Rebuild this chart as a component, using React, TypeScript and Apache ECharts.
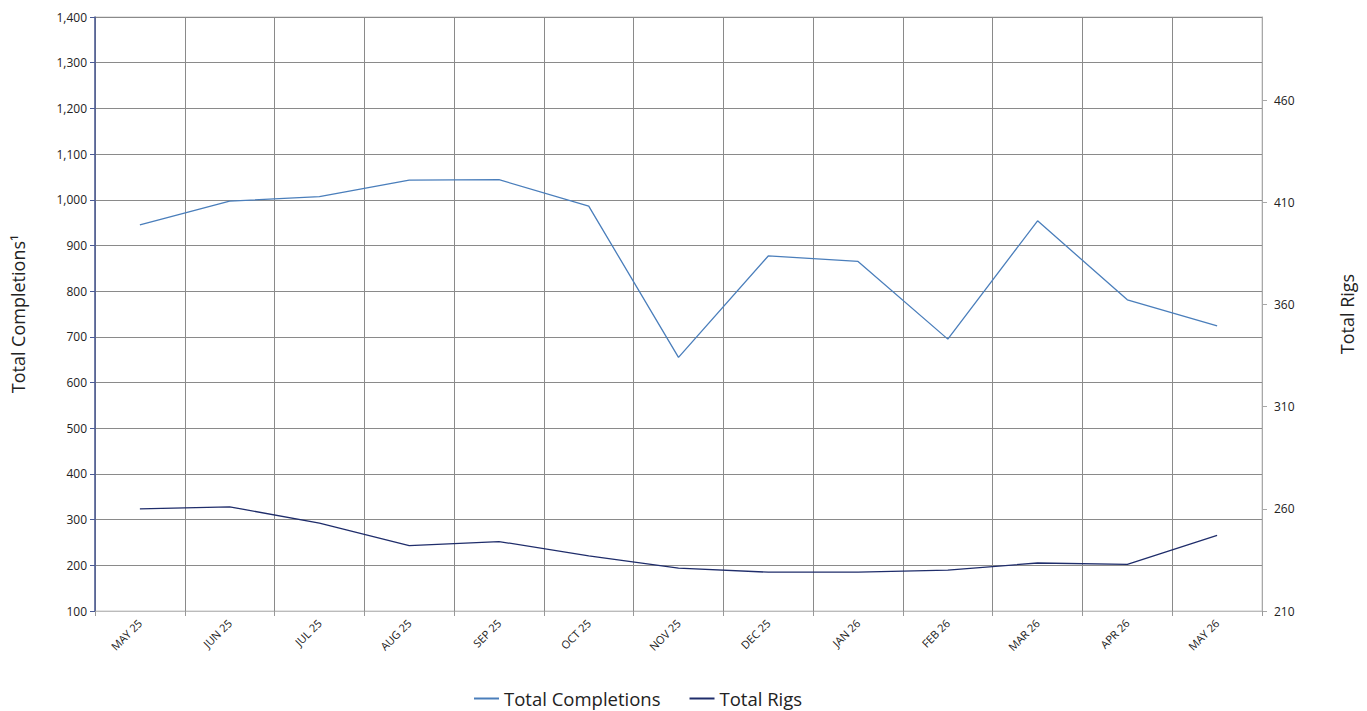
import React, { useEffect, useRef } from "react";
import * as echarts from "echarts";

const categories = ["MAY 25", "JUN 25", "JUL 25", "AUG 25", "SEP 25", "OCT 25", "NOV 25", "DEC 25", "JAN 26", "FEB 26", "MAR 26", "APR 26", "MAY 26"];
const totalCompletions = [945, 997, 1007, 1043, 1044, 986, 655, 877, 865, 695, 954, 781, 724];
const totalRigs = [260, 261, 253, 242, 244, 237, 231, 229, 229, 230, 233.5, 232.8, 247];
const leftTicks = { min: 100, max: 1400, interval: 100 };
const rightTicks = { min: 210, max: 500.7, interval: 50 };

const FONT = "'Open Sans', 'Noto Sans', sans-serif";

export default function App() {
  const ref = useRef<HTMLDivElement>(null);
  useEffect(() => {
    if (!ref.current) return;
    const chart = echarts.init(ref.current, undefined, { renderer: "svg" });
    chart.setOption({
      animation: false,
      textStyle: { fontFamily: FONT },
      grid: {
        left: 95,
        right: 105,
        top: 17,
        bottom: 100,
        show: true,
        borderColor: "#c8c8c8",
        borderWidth: 1,
        containLabel: false,
        outerBoundsMode: "none",
      },
      legend: {
        top: 689,
        left: 474,
        padding: 0,
        itemWidth: 25,
        itemHeight: 2,
        itemGap: 29,
        icon: "rect",
        textStyle: { fontSize: 18.5, color: "#222", fontFamily: FONT },
        data: ["Total Completions", "Total Rigs"],
      },
      xAxis: {
        type: "category",
        data: categories,
        boundaryGap: true,
        axisLine: { show: true, lineStyle: { color: "#bbbbbb", width: 1 } },
        axisTick: { show: true, length: 5, lineStyle: { color: "#999" }, alignWithLabel: false },
        splitLine: { show: true, interval: 0, lineStyle: { color: "#8a8a8a", width: 1 } },
        axisLabel: { rotate: 45, fontSize: 11, color: "#222", margin: 10, interval: 0 },
      },
      yAxis: [
        {
          type: "value",
          min: leftTicks.min,
          max: leftTicks.max,
          interval: leftTicks.interval,
          name: "Total Completions¹",
          nameLocation: "middle",
          nameGap: 68,
          nameTextStyle: { fontSize: 18, color: "#222" },
          axisLine: { show: true, lineStyle: { color: "#4a5a94", width: 1.5 } },
          axisTick: { show: true, length: 5, lineStyle: { color: "#4a5a94" } },
          splitLine: { show: true, lineStyle: { color: "#8a8a8a", width: 1 } },
          axisLabel: {
            fontSize: 12,
            color: "#222",
            margin: 8,
            formatter: (v: number) => v.toLocaleString("en-US"),
          },
        },
        {
          type: "value",
          position: "right",
          min: rightTicks.min,
          max: rightTicks.max,
          interval: rightTicks.interval,
          name: "Total Rigs",
          nameLocation: "middle",
          nameGap: 76,
          nameRotate: 90,
          nameTextStyle: { fontSize: 18, color: "#222" },
          axisLine: { show: true, lineStyle: { color: "#a8a8a8", width: 1 } },
          axisTick: { show: true, length: 5, lineStyle: { color: "#a8a8a8" } },
          splitLine: { show: false },
          axisLabel: {
            fontSize: 12,
            color: "#222",
            margin: 12,
            showMaxLabel: false,
            formatter: (v: number) => ((v - 210) % 50 === 0 ? String(v) : ""),
          },
        },
      ],
      series: [
        {
          name: "Total Completions",
          type: "line",
          yAxisIndex: 0,
          data: totalCompletions,
          symbol: "none",
          lineStyle: { color: "#4a7ebb", width: 1.3 },
          itemStyle: { color: "#4a7ebb" },
        },
        {
          name: "Total Rigs",
          type: "line",
          yAxisIndex: 1,
          data: totalRigs,
          symbol: "none",
          lineStyle: { color: "#1f2d6b", width: 1.3 },
          itemStyle: { color: "#1f2d6b" },
        },
      ],
    });
    return () => chart.dispose();
  }, []);
  return <div ref={ref} style={{ width: 1367, height: 711, marginLeft: -8, marginTop: -8 }} />;
}
